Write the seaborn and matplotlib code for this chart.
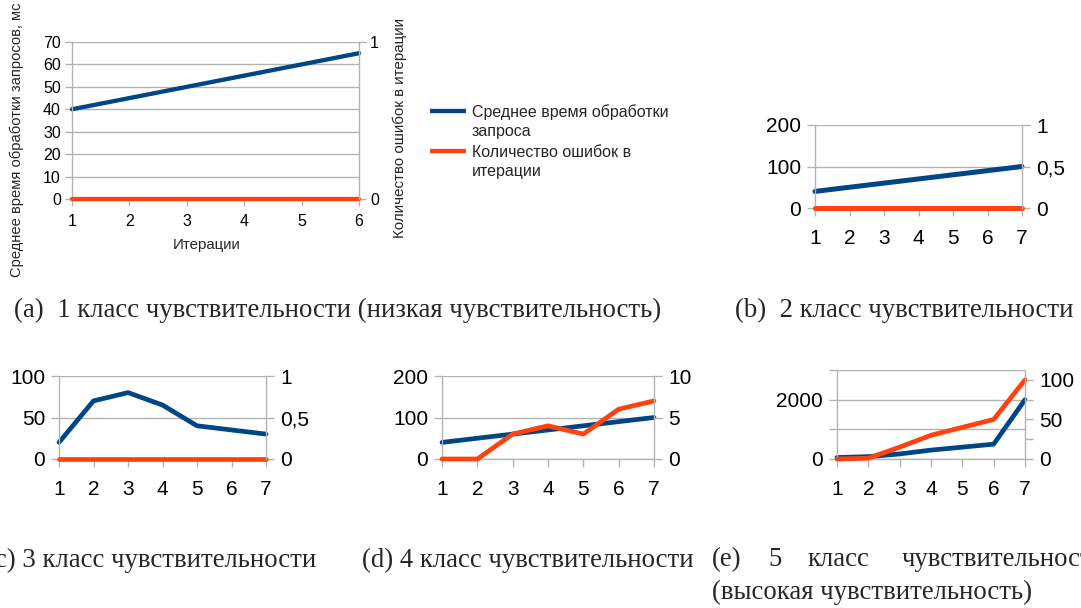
import matplotlib
matplotlib.use("Agg")
import matplotlib.pyplot as plt
from matplotlib.lines import Line2D
import seaborn as sns

sns.set_theme(style="white")
plt.rcParams["font.family"] = ["Liberation Sans", "DejaVu Sans"]

W, H = 1081, 608
BLUE = "#004586"
ORANGE = "#ff420e"
GRID = "#b3b3b3"

# ---- data -------------------------------------------------------------
iters_a = [1, 2, 3, 4, 5, 6]
time_a = [40, 45, 50, 55, 60, 65]
err_a = [0, 0, 0, 0, 0, 0]

iters = [1, 2, 3, 4, 5, 6, 7]
time_b = [40, 50, 60, 70, 80, 90, 100]
err_b = [0, 0, 0, 0, 0, 0, 0]

time_c = [20, 70, 80, 65, 40, 35, 30]
err_c = [0, 0, 0, 0, 0, 0, 0]

time_d = [40, 50, 60, 70, 80, 90, 100]
err_d = [0, 0, 3, 4, 3, 6, 7]

time_e = [50, 80, 170, 300, 400, 500, 2000]
err_e = [0, 1, 15, 30, 40, 50, 100]

# axis ticks and their labels
ticks_a_left = [0, 10, 20, 30, 40, 50, 60, 70]
labels_a_left = ["0", "10", "20", "30", "40", "50", "60", "70"]
ticks_a_right = [0, 1]
labels_a_right = ["0", "1"]

ticks_200 = [0, 100, 200]
labels_200 = ["0", "100", "200"]
ticks_100 = [0, 50, 100]
labels_100 = ["0", "50", "100"]
ticks_unit = [0, 0.5, 1]
labels_unit = ["0", "0,5", "1"]
ticks_ten = [0, 5, 10]
labels_ten = ["0", "5", "10"]
ticks_e_left = [0, 1000, 2000, 3000]
labels_e_left = ["0", "", "2000", ""]
ticks_e_right = [0, 25, 50, 75, 100]
labels_e_right = ["0", "", "50", "", "100"]

legend_labels = ["Среднее время обработки\nзапроса", "Количество ошибок в\nитерации"]
ylabel_left = "Среднее время обработки запросов, мс"
ylabel_right = "Количество ошибок в итерации"
xlabel = "Итерации"

captions = {
    "a": "(a)  1 класс чувствительности (низкая чувствительность)",
    "b": "(b)  2 класс чувствительности",
    "c": "(c) 3 класс чувствительности",
    "d": "(d) 4 класс чувствительности",
}
caption_e_words = ["(e)", "5", "класс", "чувствительности"]
caption_e_line2 = "(высокая чувствительность)"


def rect(l, t, r, b):
    return [l / W, 1 - b / H, (r - l) / W, (b - t) / H]


def fx(px):
    return px / W


def fy(px):
    return 1 - px / H


fig = plt.figure(figsize=(W / 100, H / 100), dpi=100)


def panel(box, x, t, e, ylim_l, yt_l, yl_l, ylim_r, yt_r, yl_r,
          fs, lw, tick_len, xpad, ypad):
    ax = fig.add_axes(rect(*box))
    sns.lineplot(x=x, y=t, ax=ax, color=BLUE, linewidth=lw, clip_on=False)
    ax.set_xlim(x[0], x[-1])
    ax.set_ylim(*ylim_l)
    ax.set_xticks(x)
    ax.set_xticklabels([str(v) for v in x])
    ax.set_yticks(yt_l)
    ax.set_yticklabels(yl_l)
    ax.set_xlabel("")
    ax.set_ylabel("")
    ax.grid(axis="y", color=GRID, linewidth=1)
    ax.grid(axis="x", visible=False)
    for s in ("top", "right"):
        ax.spines[s].set_visible(False)
    for s in ("left", "bottom"):
        ax.spines[s].set_color(GRID)
        ax.spines[s].set_linewidth(1)
    ax.tick_params(axis="both", which="both", direction="out", length=tick_len,
                   width=1, color=GRID, labelcolor="black", labelsize=fs,
                   left=True, bottom=True)
    ax.tick_params(axis="x", pad=xpad)
    ax.tick_params(axis="y", pad=ypad)

    ax2 = ax.twinx()
    sns.lineplot(x=x, y=e, ax=ax2, color=ORANGE, linewidth=lw, clip_on=False)
    ax2.set_ylim(*ylim_r)
    ax2.set_yticks(yt_r)
    ax2.set_yticklabels(yl_r)
    ax2.set_ylabel("")
    ax2.grid(False)
    for s in ("top", "left", "bottom"):
        ax2.spines[s].set_visible(False)
    ax2.spines["right"].set_color(GRID)
    ax2.spines["right"].set_linewidth(1)
    ax2.tick_params(axis="y", direction="out", length=tick_len, width=1,
                    color=GRID, labelcolor="black", labelsize=fs, pad=ypad,
                    right=True)
    return ax, ax2


# (a) with axis titles and legend
ax_a, ax_a2 = panel((72, 42, 359, 199), iters_a, time_a, err_a,
                    (0, 70), ticks_a_left, labels_a_left,
                    (0, 1), ticks_a_right, labels_a_right,
                    fs=11.5, lw=3.1, tick_len=5, xpad=6, ypad=3)
fig.text(fx(17), fy(140), ylabel_left, rotation=90, ha="center",
         va="center", fontsize=10.6)
fig.text(fx(400), fy(128), ylabel_right, rotation=90, ha="center",
         va="center", fontsize=10.9)
fig.text(fx(207), fy(245), xlabel, ha="center", va="center", fontsize=10.8)

# legend: key line beside the first line of each (two-line) label
legend_colors = [BLUE, ORANGE]
for i, (lab, col) in enumerate(zip(legend_labels, legend_colors)):
    y0 = 111 + i * 40
    fig.add_artist(Line2D([fx(430), fx(466)], [fy(y0), fy(y0)], color=col,
                          linewidth=3.1, solid_capstyle="butt"))
    for j, line in enumerate(lab.split("\n")):
        fig.text(fx(472), fy(y0 + j * 19), line, ha="left",
                 va="center_baseline", fontsize=11.5)

# (b)
panel((815, 125, 1022, 208), iters, time_b, err_b,
      (0, 200), ticks_200, labels_200,
      (0, 1), ticks_unit, labels_unit,
      fs=15, lw=3.6, tick_len=6, xpad=9, ypad=4)

# (c)
panel((59, 376, 266, 459), iters, time_c, err_c,
      (0, 100), ticks_100, labels_100,
      (0, 1), ticks_unit, labels_unit,
      fs=15, lw=3.4, tick_len=6, xpad=9, ypad=4)

# (d)
panel((442, 376, 654, 459), iters, time_d, err_d,
      (0, 200), ticks_200, labels_200,
      (0, 10), ticks_ten, labels_ten,
      fs=15, lw=3.4, tick_len=6, xpad=9, ypad=4)

# (e)
panel((837, 370, 1025, 459), iters, time_e, err_e,
      (0, 3000), ticks_e_left, labels_e_left,
      (0, 112.5), ticks_e_right, labels_e_right,
      fs=15, lw=3.4, tick_len=6, xpad=9, ypad=4)

# sub-figure captions
cap = dict(family=["Liberation Serif", "DejaVu Serif"], fontsize=19.3,
           va="center")
fig.text(fx(14), fy(310), captions["a"], ha="left", **cap)
fig.text(fx(735), fy(310), captions["b"], ha="left", **cap)
fig.text(fx(316), fy(560), captions["c"], ha="right", **cap)
fig.text(fx(362), fy(560), captions["d"], ha="left", **cap)
for word, xpx in zip(caption_e_words, [712, 768, 808, 902]):
    fig.text(fx(xpx), fy(560), word, ha="left", **cap)
fig.text(fx(712), fy(592), caption_e_line2, ha="left", **cap)

fig.savefig("out.png", dpi=100)
